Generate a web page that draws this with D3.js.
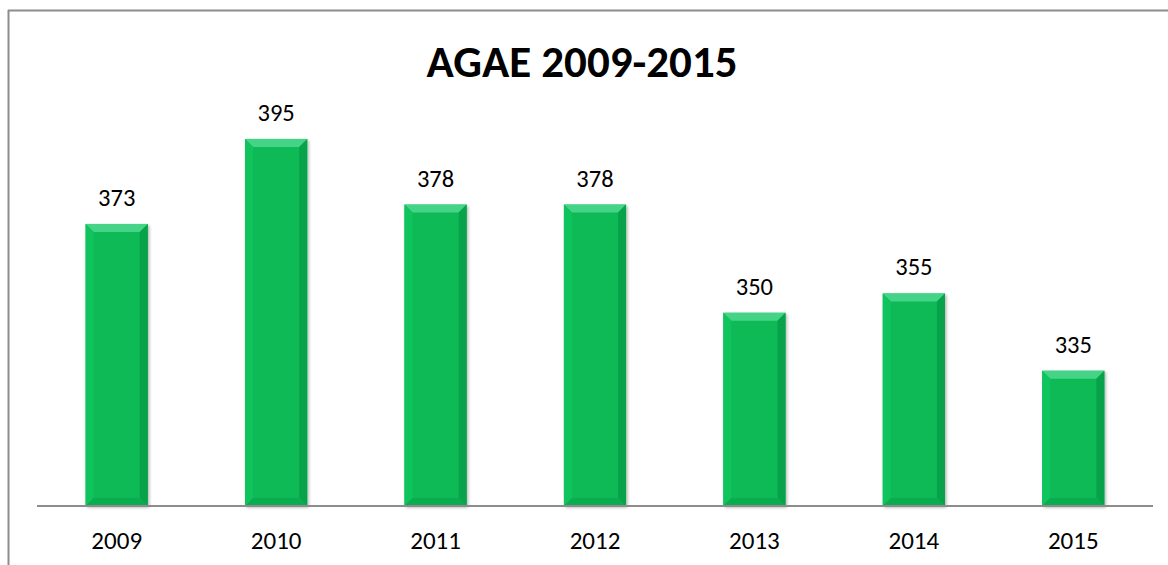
<!DOCTYPE html>
<html><head><meta charset="utf-8">
<script src="https://cdn.jsdelivr.net/npm/d3@7"></script>
<style>body{margin:0;background:#fff}svg{display:block}</style>
</head><body>
<script>
const categories = ["2009","2010","2011","2012","2013","2014","2015"];
const values = [373,395,378,378,350,355,335];
const title = "AGAE 2009-2015";

const W = 1168, H = 565;
const svg = d3.select("body").append("svg").attr("width", W).attr("height", H);
const font = "Carlito, Lato, 'Open Sans', sans-serif";

// frame
svg.append("line").attr("x1",8.5).attr("x2",8.5).attr("y1",10).attr("y2",H).attr("stroke","#8c8c8c").attr("stroke-width",2);
svg.append("line").attr("x1",8).attr("x2",W).attr("y1",10.5).attr("y2",10.5).attr("stroke","#8c8c8c").attr("stroke-width",2);

const x = d3.scaleBand().domain(categories).range([37,1153]).paddingInner(0.61).paddingOuter(0.305);
const y = d3.scaleLinear().domain([300,400]).range([506,119.6]);

const defs = svg.append("defs");
const f = defs.append("filter").attr("id","sh").attr("x","-20%").attr("y","-20%").attr("width","140%").attr("height","140%");
f.append("feDropShadow").attr("dx",1.5).attr("dy",1.5).attr("stdDeviation",1.5).attr("flood-color","#000").attr("flood-opacity",0.3);

const g = svg.append("g");
const data = categories.map((c,i)=>({c, v: values[i]}));
const bars = g.selectAll("g.bar").data(data).join("g").attr("class","bar");
const b = 8;
bars.each(function(d){
  const gg = d3.select(this);
  const x0 = x(d.c), w = x.bandwidth(), y0 = y(d.v), y1 = y(300);
  gg.append("rect").attr("x",x0).attr("y",y0).attr("width",w).attr("height",y1-y0).attr("fill","#0cba57").attr("filter","url(#sh)");
  gg.append("path").attr("d",`M${x0},${y0}L${x0+w},${y0}L${x0+w-b},${y0+b}L${x0+b},${y0+b}Z`).attr("fill","#45d487");
  gg.append("path").attr("d",`M${x0},${y0}L${x0+b},${y0+b}L${x0+b},${y1-b}L${x0},${y1}Z`).attr("fill","#0fc35d");
  gg.append("path").attr("d",`M${x0+w},${y0}L${x0+w-b},${y0+b}L${x0+w-b},${y1-b}L${x0+w},${y1}Z`).attr("fill","#08a24a");
  gg.append("path").attr("d",`M${x0},${y1}L${x0+b},${y1-b}L${x0+w-b},${y1-b}L${x0+w},${y1}Z`).attr("fill","#09ad50");
});

// value labels
g.selectAll("text.val").data(data).join("text").attr("class","val")
  .attr("x",d=>x(d.c)+x.bandwidth()/2).attr("y",d=>y(d.v)-18)
  .attr("text-anchor","middle").attr("font-family",font).attr("font-size",24.5).attr("fill","#000")
  .text(d=>d.v);

// x axis
const ax = svg.append("g").attr("transform","translate(0,506)").call(d3.axisBottom(x).tickSize(0).tickPadding(25));
ax.select(".domain").attr("stroke","#8c8c8c").attr("stroke-width",2).attr("d","M37,0H1153");
ax.selectAll("text").attr("font-family",font).attr("font-size",25).attr("fill","#000");

// title
svg.append("text").attr("x",582).attr("y",77).attr("text-anchor","middle")
  .attr("font-family",font).attr("font-weight","bold").attr("font-size",45).attr("fill","#000").text(title);
</script>
</body></html>
